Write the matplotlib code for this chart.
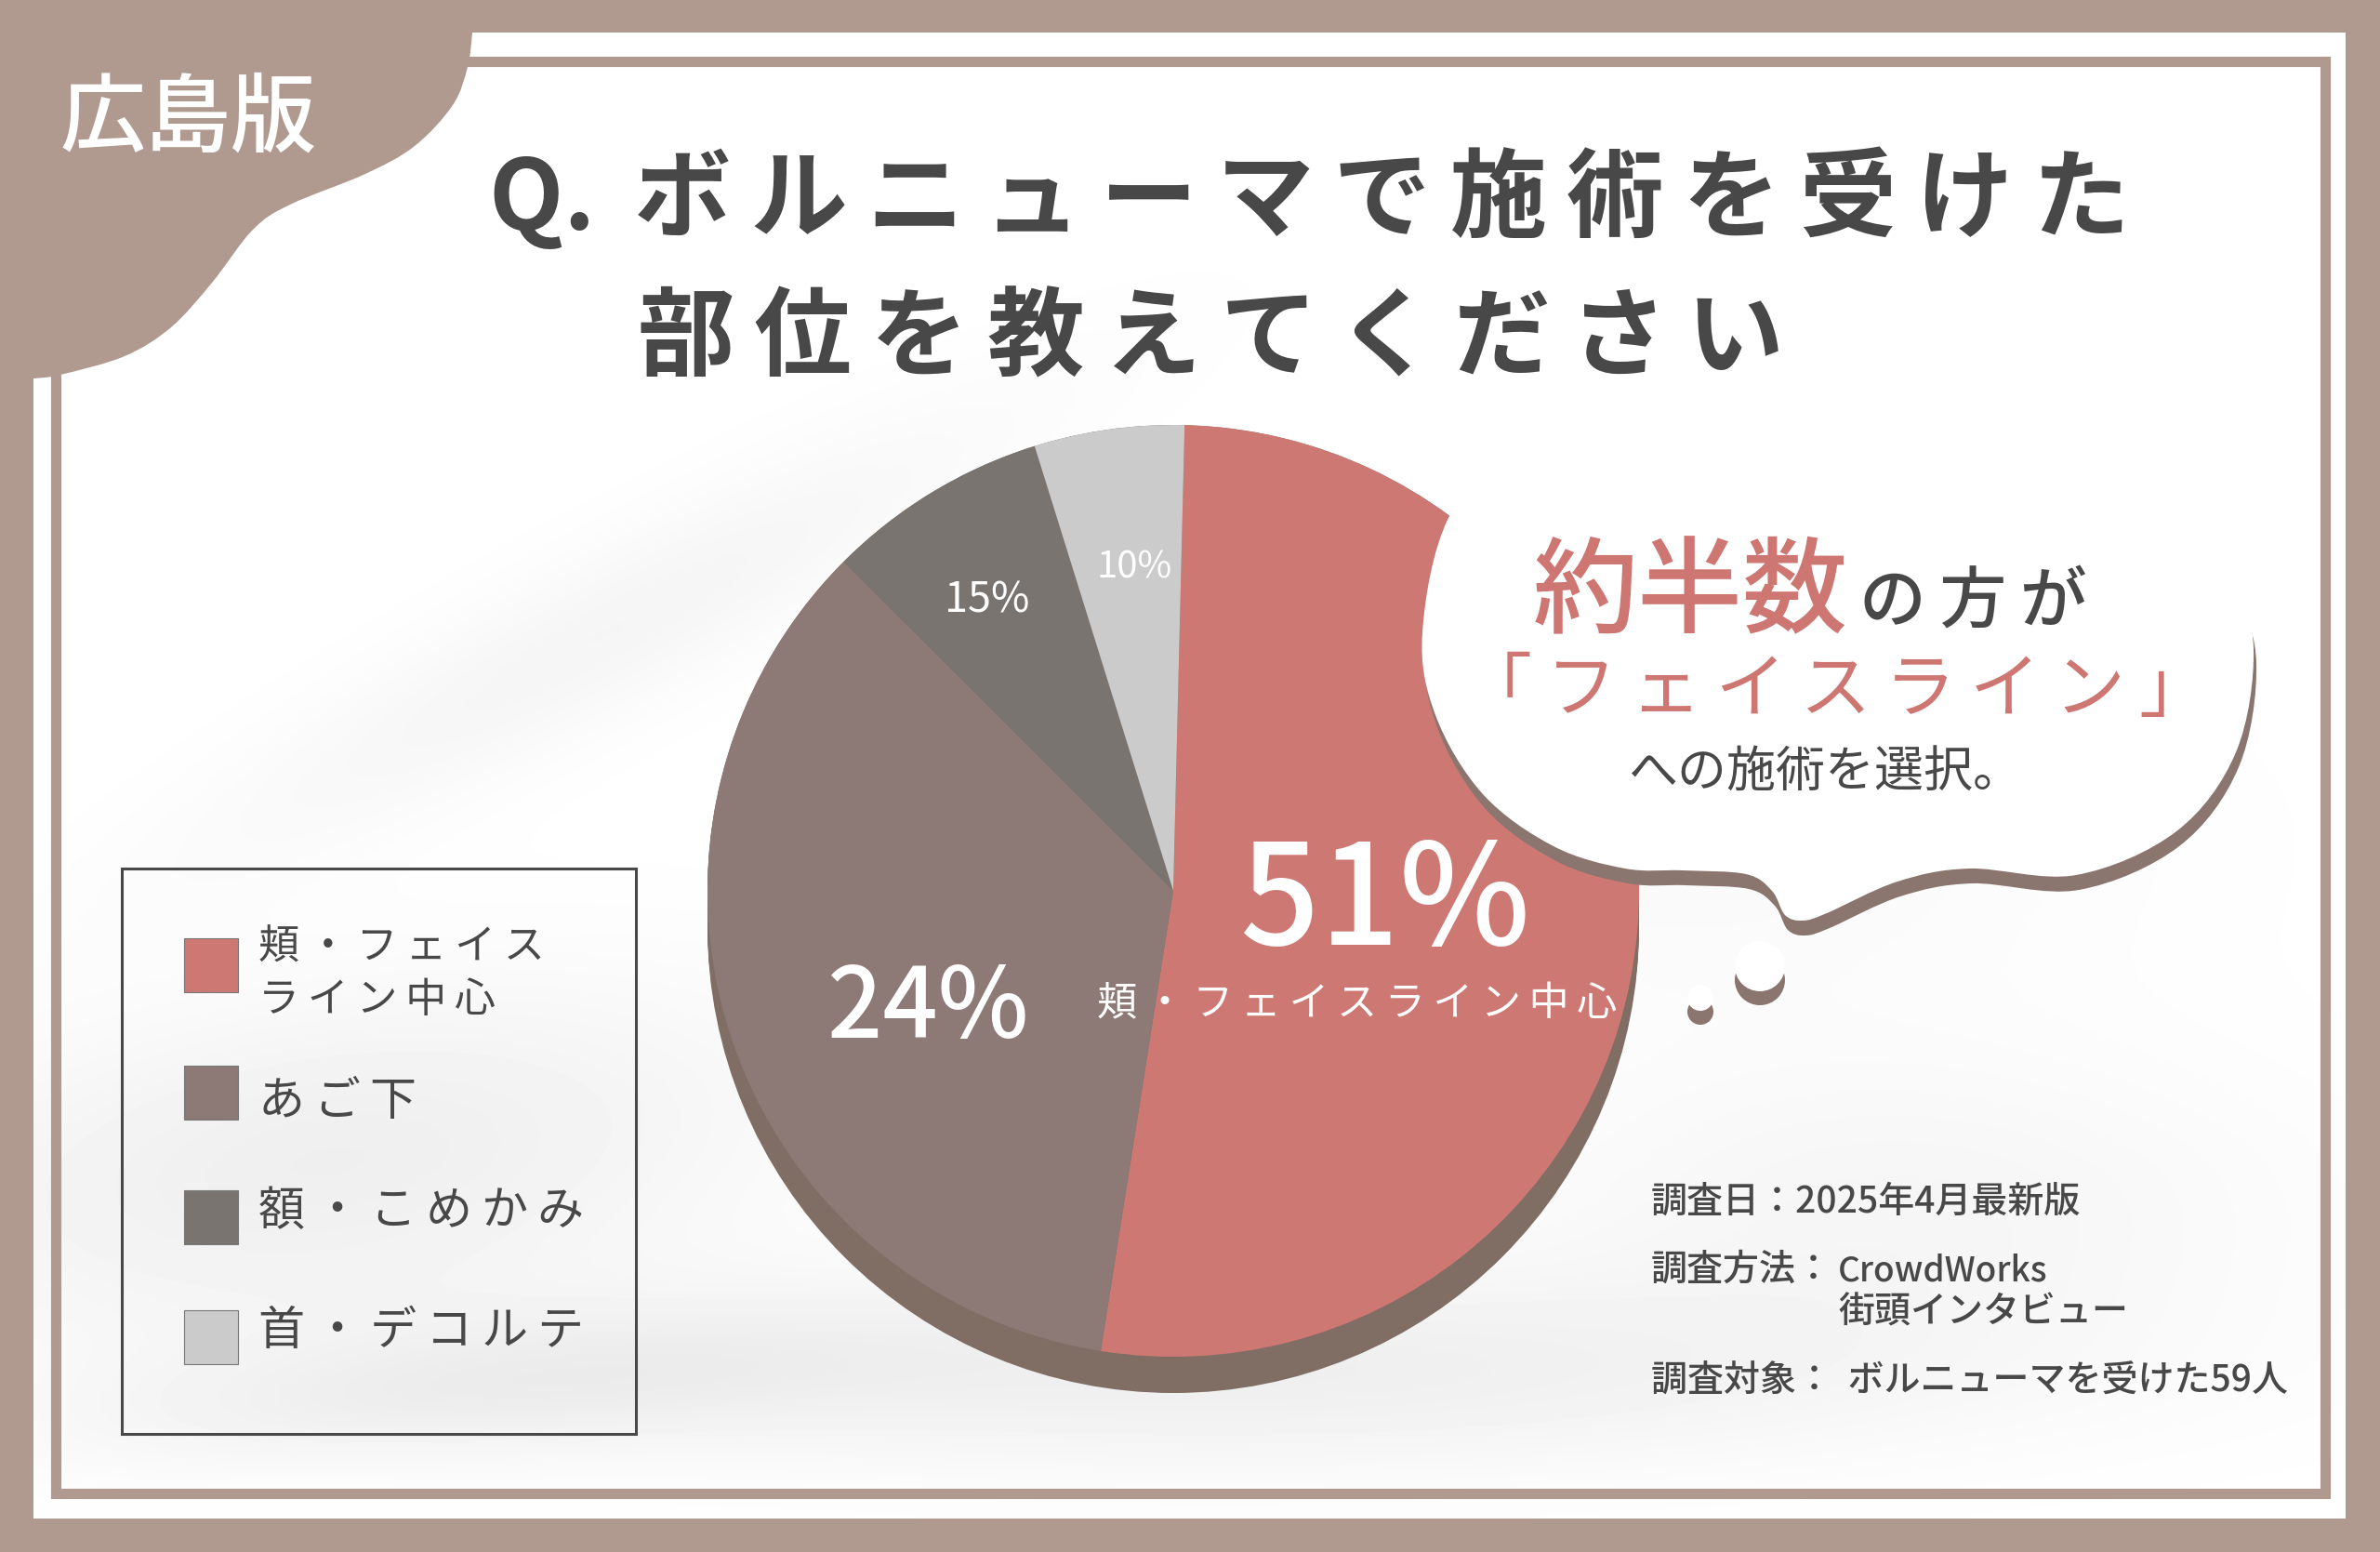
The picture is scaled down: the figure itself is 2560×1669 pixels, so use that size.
import numpy as np
import matplotlib
matplotlib.use('Agg')
import matplotlib.pyplot as plt
from matplotlib.patches import Rectangle, PathPatch, Circle
from matplotlib.path import Path

plt.rcParams['font.family'] = ['Noto Sans CJK JP', 'DejaVu Sans']

# Wedge shares as drawn in the picture (they differ from the printed labels)
wedge_shares = [52.1, 35.0, 7.7, 5.2]
wedge_colors = ['#ce7873', '#8d7976', '#79746f', '#cbcbcb']
pct_labels = ['51%', '24%', '15%', '10%']
legend_labels = ['頬・フェイス\nライン中心', 'あご下', '額・こめかみ', '首・デコルテ']

BROWN = '#b09a90'
SHADOW = '#8a766e'
INK = '#484848'
PINK = '#cd7672'
THIN = '\u2009'


def spaced(s):
    return THIN.join(s)


def smooth(points, closed=False):
    # Catmull-Rom через точки -> кривые Безье
    p = np.array(points, dtype=float)
    n = len(p)
    verts = [p[0]]
    codes = [Path.MOVETO]
    for i in range(n if closed else n - 1):
        p0 = p[(i - 1) % n] if (closed or i > 0) else p[i]
        p1 = p[i]
        p2 = p[(i + 1) % n]
        p3 = p[(i + 2) % n] if (closed or i + 2 < n) else p2
        verts += [p1 + (p2 - p0) / 6, p2 - (p3 - p1) / 6, p2]
        codes += [Path.CURVE4] * 3
    return verts, codes


fig = plt.figure(figsize=(25.6, 16.69), dpi=100, facecolor=BROWN)


def px_axes(z):
    a = fig.add_axes([0, 0, 1, 1], zorder=z)
    a.set_xlim(0, 2560)
    a.set_ylim(1669, 0)
    a.axis('off')
    return a


# --- background ---
bg = px_axes(0)
bg.add_patch(Rectangle((36, 36), 2487, 1597, fc='white', ec='none', zorder=1))

# faint grey smudges behind the chart
xx, yy = np.meshgrid(np.linspace(36, 2523, 250), np.linspace(36, 1633, 160))
smudges = [(650, 680, 520, 90, -28, 10), (350, 1250, 500, 180, -8, 16),
           (1300, 1480, 800, 110, 0, 16), (2050, 1300, 450, 170, 0, 9),
           (1800, 900, 500, 200, 0, 6), (500, 1500, 450, 70, -5, 12)]
wash = np.full(xx.shape, 255.0)
for cx0, cy0, sa, sb, ang, depth in smudges:
    t = np.deg2rad(ang)
    u = (xx - cx0) * np.cos(t) + (yy - cy0) * np.sin(t)
    v = -(xx - cx0) * np.sin(t) + (yy - cy0) * np.cos(t)
    wash -= depth * np.exp(-(u / sa) ** 2 - (v / sb) ** 2)
bg.imshow(wash, cmap='gray', vmin=0, vmax=255, extent=(36, 2523, 1633, 36),
          aspect='auto', interpolation='bilinear', zorder=2)
bg.set_xlim(0, 2560)
bg.set_ylim(1669, 0)

# frame line
bg.add_patch(Rectangle((59.5, 66.5), 2441, 1539, fc='none', ec=BROWN, lw=8, zorder=3))

# corner tab
corner = [(508, 36), (503, 72), (487, 113), (446, 157), (393, 187), (312, 220), (272, 247),
          (228, 304), (184, 352), (134, 383), (65, 403), (36, 407)]
v, c = smooth(corner)
v = [(0, 0), (508, 0)] + v[0:] + [(0, 407), (0, 0)]
c = [Path.MOVETO, Path.LINETO, Path.LINETO] + c[1:] + [Path.LINETO, Path.CLOSEPOLY]
bg.add_patch(PathPatch(Path(v, c), fc=BROWN, ec='none', zorder=4))

# --- pie ---
PIE_CX, PIE_CY, PIE_R, PIE_DEPTH = 1262, 958, 501, 39
for dy in range(0, PIE_DEPTH + 1, 3):
    bg.add_patch(Circle((PIE_CX, PIE_CY + dy), PIE_R, fc='#806d64', ec='none', zorder=5))

pie_ax = fig.add_axes([(PIE_CX - PIE_R) / 2560, 1 - (PIE_CY + PIE_R) / 1669,
                       2 * PIE_R / 2560, 2 * PIE_R / 1669], zorder=1)
pie_ax.pie(wedge_shares, colors=wedge_colors, startangle=88.6, counterclock=False, radius=1)
pie_ax.set_xlim(-1, 1)
pie_ax.set_ylim(-1, 1)

# --- overlay ---
ov = px_axes(2)
ov.patch.set_alpha(0)

# speech bubble
bubble = [(1558, 557), (1530, 680), (1544, 769), (1595, 854), (1671, 910), (1748, 934),
          (1810, 936), (1878, 940), (1906, 958), (1920, 984), (1939, 990), (1965, 982),
          (2041, 948), (2118, 934), (2233, 941), (2341, 894), (2405, 809), (2424, 698),
          (2400, 620), (2335, 523), (2204, 465), (2041, 441), (1796, 438), (1633, 473)]
v, c = smooth(bubble, closed=True)
shadow_verts = [(x + 3, y + 16) for x, y in v]
ov.add_patch(PathPatch(Path(shadow_verts, c), fc=SHADOW, ec='none', zorder=1))
ov.add_patch(PathPatch(Path(v, c), fc='white', ec='none', zorder=2))
for x, y, r in [(1893, 1039, 27), (1829, 1073, 14)]:
    ov.add_patch(Circle((x, y + 15), r, fc=SHADOW, ec='none', zorder=1))
    ov.add_patch(Circle((x, y), r, fc='white', ec='none', zorder=2))

T = dict(zorder=5)


def px_font(p):
    return p * 72 / 100


# title
ov.text(526, 214, 'Q.' + THIN * 2 + spaced('ボルニューマで施術を受けた'), fontsize=px_font(104.5),
        color=INK, weight='bold', va='center', ha='left', **T)
ov.text(686, 365, spaced('部位を教えてください'), fontsize=px_font(104.5),
        color=INK, weight='bold', va='center', ha='left', **T)
ov.text(65, 130, '広島版', fontsize=px_font(92), color='white', weight='medium',
        va='center', ha='left', **T)

# pie labels
ov.text(1490, 973, pct_labels[0], fontsize=px_font(150), color='white', weight='medium',
        ha='center', va='center', **T)
ov.text(1460, 1080, spaced('頬・フェイスライン中心'), fontsize=px_font(43), color='white',
        ha='center', va='center', **T)
ov.text(998, 1086, pct_labels[1], fontsize=px_font(104), color='white', weight='medium',
        ha='center', va='center', **T)
ov.text(1062, 645, pct_labels[2], fontsize=px_font(45), color='white', ha='center', va='center', **T)
ov.text(1220, 610, pct_labels[3], fontsize=px_font(40), color='white', ha='center', va='center', **T)

# bubble text
ov.text(1649, 672, '約半数', fontsize=px_font(113), color=PINK, weight='medium',
        ha='left', va='baseline', **T)
ov.text(2000, 669, spaced('の方が'), fontsize=px_font(72), color=INK, weight='medium',
        ha='left', va='baseline', **T)
ov.text(1975, 743, spaced('「フェイスライン」'), fontsize=px_font(76), color=PINK,
        ha='center', va='center', **T)
ov.text(1963, 831, 'への施術を選択。', fontsize=px_font(53), color=INK, ha='center', va='center', **T)

# legend box
ov.add_patch(Rectangle((131, 934), 553, 608, fc='none', ec=INK, lw=2.2, zorder=3))
swatch_y = [1009, 1146, 1280, 1409]
label_y = [1047, 1185, 1303, 1432]
for y, ty, col, lab in zip(swatch_y, label_y, wedge_colors, legend_labels):
    ov.add_patch(Rectangle((198, y), 58, 58, fc=col, ec='#777777', lw=0.8, zorder=3))
    lines = [spaced(s) for s in lab.split('\n')]
    fs = px_font(44) if len(lines) > 1 else px_font(50)
    ov.text(278, ty, '\n'.join(lines), fontsize=fs, color=INK,
            ha='left', va='center', linespacing=1.3, **T)

# survey notes
notes = [(1776, 1293, '調査日：2025年4月最新版', 39), (1776, 1366, '調査方法：', 39),
         (1977, 1366, 'CrowdWorks', 37), (1977, 1411, '街頭インタビュー', 39),
         (1776, 1485, '調査対象：' + THIN + ' ボルニューマを受けた59人', 39)]
for x, y, s, size in notes:
    ov.text(x, y, s, fontsize=px_font(size), color=INK, weight='medium', ha='left', va='center', **T)

fig.savefig('out.png', dpi=100, facecolor=BROWN)
